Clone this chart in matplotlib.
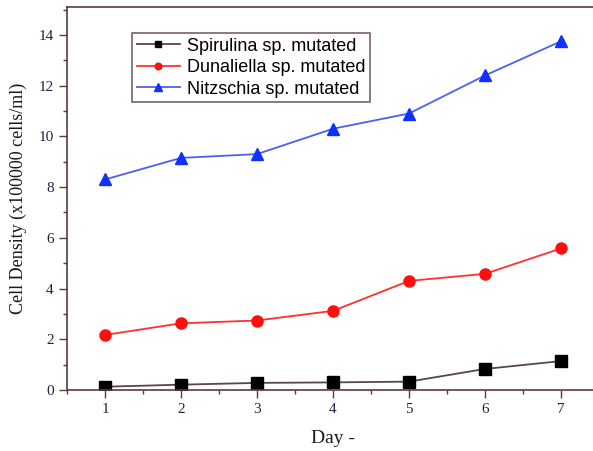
import matplotlib
matplotlib.use("Agg")
import matplotlib.pyplot as plt
from matplotlib.ticker import MultipleLocator

days = [1, 2, 3, 4, 5, 6, 7]
spirulina = [0.13, 0.21, 0.28, 0.30, 0.33, 0.83, 1.14]
dunaliella = [2.17, 2.63, 2.74, 3.12, 4.30, 4.58, 5.58]
nitzschia = [8.30, 9.15, 9.30, 10.30, 10.90, 12.40, 13.75]
labels = ["Spirulina sp. mutated", "Dunaliella sp. mutated", "Nitzschia sp. mutated"]

spine_col = "#5a3b3b"
tick_col = "#222244"

fig = plt.figure(figsize=(5.93, 4.51), dpi=100)
W, H = 593, 451
ax = fig.add_axes([67 / W, 1 - 390 / H, (599 - 67) / W, (390 - 7) / H])

ax.plot(days, spirulina, color="#5a4646", lw=1.3, marker="s", ms=8,
        mfc="black", mec="black", label=labels[0])
ax.plot(days, dunaliella, color="#ff3030", lw=1.3, marker="o", ms=8,
        mfc="#ff1010", mec="#ff1010", label=labels[1])
ax.plot(days, nitzschia, color="#4d5ff0", lw=1.3, marker="^", ms=9,
        mfc="#1030ff", mec="#1030ff", label=labels[2])

ax.set_xlim(0.5, 7.5)
ax.set_ylim(0, 15.1)
ax.xaxis.set_major_locator(MultipleLocator(1))
ax.xaxis.set_minor_locator(MultipleLocator(0.5))
ax.yaxis.set_major_locator(MultipleLocator(2))
ax.yaxis.set_minor_locator(MultipleLocator(1))
ax.tick_params(which="major", direction="out", length=6, width=1, color=spine_col,
               labelsize=11, labelcolor=tick_col)
ax.tick_params(which="minor", direction="out", length=3, width=1, color=spine_col)
for lab in ax.get_xticklabels() + ax.get_yticklabels():
    lab.set_family("Liberation Serif")

for s in ["left", "bottom", "top"]:
    ax.spines[s].set_color(spine_col)
    ax.spines[s].set_linewidth(1.2)
ax.spines["right"].set_visible(False)

ax.set_ylabel("Cell Density (x100000 cells/ml)", family="Liberation Serif",
              fontsize=13, color="#1a1a1a", labelpad=8)
ax.set_xlabel("Day -", family="Liberation Serif", fontsize=14, color="#1a1a1a")
ax.xaxis.set_label_coords((333 - 67) / (599 - 67), -0.105)

leg = ax.legend(loc="upper left", bbox_to_anchor=((132 - 67) / (599 - 67), 1 - (33 - 7) / (390 - 7)),
                prop={"family": "Liberation Sans", "size": 13}, frameon=True,
                fancybox=False, borderpad=0.25, labelspacing=0.25, handlelength=2.4,
                handletextpad=0.4, borderaxespad=0, markerscale=0.6)
leg.get_frame().set_edgecolor(spine_col)
leg.get_frame().set_linewidth(1.2)

fig.savefig("out.png", dpi=100)
